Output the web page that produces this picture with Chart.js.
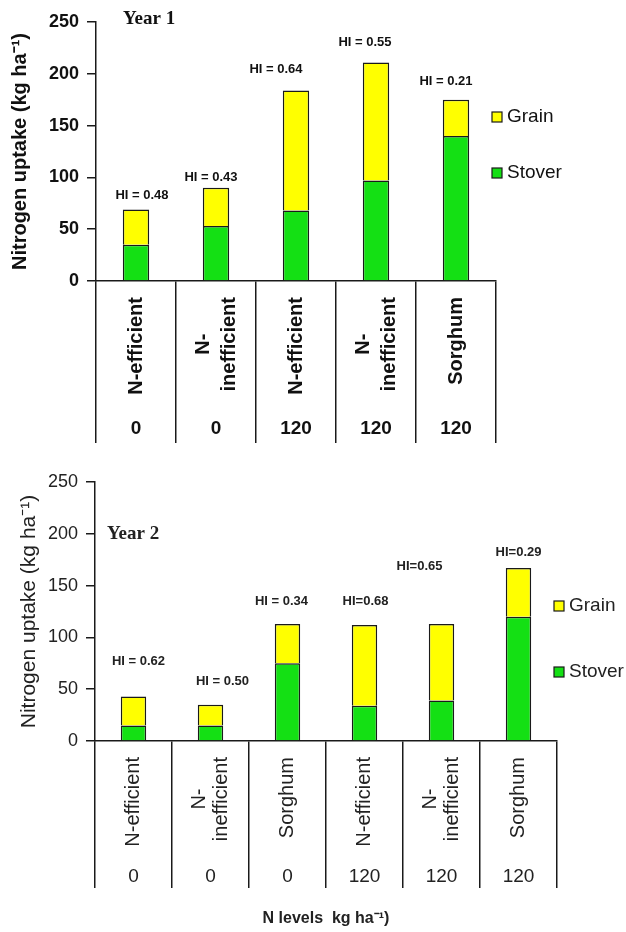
<!DOCTYPE html>
<html>
<head>
<meta charset="utf-8">
<script src="https://cdn.jsdelivr.net/npm/chart.js@4.4.1/dist/chart.umd.min.js"></script>
<style>
  html, body { margin: 0; padding: 0; background: #fff; }
  #w1 { position: absolute; left: 0; top: 0; width: 626px; height: 455px; }
  #w2 { position: absolute; left: 0; top: 460px; width: 626px; height: 472px; }
</style>
</head>
<body>
<div id="w1"><canvas id="c1" width="626" height="455" style="width:626px;height:455px"></canvas></div>
<div id="w2"><canvas id="c2" width="626" height="472" style="width:626px;height:472px"></canvas></div>
<script>
// ---------- DATA ----------
const categories1 = [['N-efficient'], ['N-', 'inefficient'], ['N-efficient'], ['N-', 'inefficient'], ['Sorghum']];
const nLevels1 = ['0', '0', '120', '120', '120'];
const stover1 = [35, 53, 68, 97, 140];
const grain1 = [34, 37, 116, 114, 35];
const hiLabels1 = ['HI = 0.48', 'HI = 0.43', 'HI = 0.64', 'HI = 0.55', 'HI = 0.21'];

const categories2 = [['N-efficient'], ['N-', 'inefficient'], ['Sorghum'], ['N-efficient'], ['N-', 'inefficient'], ['Sorghum']];
const nLevels2 = ['0', '0', '0', '120', '120', '120'];
const stover2 = [15, 15, 75, 34, 39, 120];
const grain2 = [28, 20, 38, 78, 74, 47];
const hiLabels2 = ['HI = 0.62', 'HI = 0.50', 'HI = 0.34', 'HI=0.68', 'HI=0.65', 'HI=0.29'];

const yTickValues = [0, 50, 100, 150, 200, 250];
const seriesNames = ['Stover', 'Grain'];

// ---------- LAYOUT / STYLE (not data) ----------
const hiOffsets1 = [[6, 14], [-5, 10], [-20, 21], [-11, 20], [-10, 18]];
const hiOffsets2 = [[5, 35], [12, 23], [-6, 23], [1, 24], [-22, 58], [0, 16]];

const SANS = "'Liberation Sans', Arial, sans-serif";
const SERIF = "'Liberation Serif', 'Times New Roman', serif";
const GREEN = '#14e014';
const YELLOW = '#ffff00';
const EDGE = '#1a1a1a';

const textPlugin = {
  id: 'customText',
  afterDraw(chart) {
    const cfg = chart.options.plugins.customText;
    const { ctx, chartArea } = chart;
    const x = chart.scales.x, y = chart.scales.y;
    ctx.save();
    ctx.fillStyle = cfg.color;
    ctx.textAlign = 'center';
    ctx.textBaseline = 'middle';

    // rotated category labels
    ctx.font = cfg.catFont;
    chart.data.labels.forEach((lines, i) => {
      const cx = x.getPixelForValue(i);
      const w = Math.max(...lines.map(l => ctx.measureText(l).width));
      const cy = chartArea.bottom + cfg.catTop + w / 2;
      lines.forEach((line, k) => {
        const off = (k - (lines.length - 1) / 2) * cfg.catLineHeight;
        ctx.save();
        ctx.translate(cx + off, cy);
        ctx.rotate(-Math.PI / 2);
        ctx.fillText(line, 0, 0);
        ctx.restore();
      });
    });

    // N level numbers
    ctx.font = cfg.numFont;
    cfg.levels.forEach((lv, i) => {
      ctx.fillText(lv, x.getPixelForValue(i), chartArea.bottom + cfg.numOffset);
    });

    // HI labels above stacks
    ctx.font = cfg.hiFont;
    cfg.hi.forEach((txt, i) => {
      const total = chart.data.datasets.reduce((s, d) => s + d.data[i], 0);
      const [dx, dy] = cfg.hiOffsets[i];
      ctx.fillText(txt, x.getPixelForValue(i) + dx, y.getPixelForValue(total) - dy);
    });

    // Year label
    ctx.textAlign = 'left';
    ctx.font = cfg.yearFont;
    ctx.fillText(cfg.year, chartArea.left + cfg.yearDx, chartArea.top + cfg.yearDy);

    // Legend (Grain on top, Stover below)
    const ds = chart.data.datasets.slice().reverse();
    ctx.font = cfg.legendFont;
    ds.forEach((d, k) => {
      const bx = chartArea.right + cfg.legendDx;
      const by = chartArea.top + cfg.legendTop + k * cfg.legendGap;
      ctx.fillStyle = d.backgroundColor;
      ctx.fillRect(bx, by - 5, 10, 10);
      ctx.strokeStyle = EDGE;
      ctx.lineWidth = 1.2;
      ctx.strokeRect(bx, by - 5, 10, 10);
      ctx.fillStyle = cfg.color;
      ctx.fillText(d.label, bx + 15, by);
    });
    ctx.restore();
  }
};

function makeChart(id, o) {
  const canvasH = o.canvasH;
  return new Chart(document.getElementById(id), {
    type: 'bar',
    data: {
      labels: o.categories,
      datasets: [
        { label: seriesNames[0], data: o.stover, backgroundColor: GREEN, borderColor: EDGE, borderWidth: 1.5, borderSkipped: 'start' },
        { label: seriesNames[1], data: o.grain, backgroundColor: YELLOW, borderColor: EDGE, borderWidth: 1.5, borderSkipped: 'start' }
      ]
    },
    options: {
      responsive: false,
      animation: false,
      layout: { padding: { top: 22, left: 0, right: o.padRight, bottom: 0 } },
      datasets: { bar: { categoryPercentage: 1.0, barPercentage: 0.33 } },
      plugins: {
        legend: { display: false },
        tooltip: { enabled: false },
        customText: {
          color: o.color,
          catFont: o.catFont,
          catTop: 16,
          catLineHeight: o.catLineHeight,
          numFont: o.numFont,
          numOffset: o.numOffset,
          levels: o.levels,
          hiFont: o.hiFont,
          hi: o.hi,
          hiOffsets: o.hiOffsets,
          year: o.year,
          yearFont: 'bold 19px ' + SERIF,
          yearDx: o.yearDx,
          yearDy: o.yearDy,
          legendFont: '19px ' + SANS,
          legendDx: o.legendDx,
          legendTop: o.legendTop,
          legendGap: o.legendGap
        }
      },
      scales: {
        x: {
          stacked: true,
          offset: true,
          border: { display: true, color: EDGE, width: 1.5 },
          grid: { offset: true, drawOnChartArea: false, drawTicks: true, tickLength: o.divLength, color: EDGE, lineWidth: 1.5 },
          ticks: { display: false },
          title: o.xTitle ? { display: true, text: o.xTitle, color: o.color, font: { family: SANS, size: 16, weight: 'bold' }, padding: { top: 0, bottom: 4 } } : { display: false },
          afterFit(scale) { scale.height = canvasH - 281; }
        },
        y: {
          stacked: true,
          min: 0,
          max: 250,
          afterBuildTicks(scale) { scale.ticks = yTickValues.map(v => ({ value: v })); },
          border: { display: true, color: EDGE, width: 1.5 },
          grid: { drawOnChartArea: false, drawTicks: true, tickLength: 9, color: EDGE, lineWidth: 1.5 },
          ticks: { color: o.color, padding: 8, font: { family: SANS, size: 18, weight: o.tickWeight } },
          title: { display: true, text: 'Nitrogen uptake (kg ha\u207B\u00B9)', color: o.color, font: { family: SANS, size: o.yTitleSize, weight: o.tickWeight }, padding: { top: o.yTitlePad, bottom: 0 } },
          afterFit(scale) { scale.width = o.left; }
        }
      }
    },
    plugins: [textPlugin]
  });
}

makeChart('c1', {
  canvasH: 455, categories: categories1, stover: stover1, grain: grain1, levels: nLevels1,
  hi: hiLabels1, hiOffsets: hiOffsets1, padRight: 130, left: 96,
  color: '#111', catFont: 'bold 20px ' + SANS, catLineHeight: 26, numFont: 'bold 19px ' + SANS, numOffset: 147.5,
  hiFont: 'bold 13px ' + SANS, year: 'Year 1', yearDx: 27, yearDy: -3,
  legendDx: -4, legendTop: 95, legendGap: 56, divLength: 162, xTitle: null,
  tickWeight: 'bold', yTitleSize: 20, yTitlePad: 8
});

makeChart('c2', {
  canvasH: 472, categories: categories2, stover: stover2, grain: grain2, levels: nLevels2,
  hi: hiLabels2, hiOffsets: hiOffsets2, padRight: 69, left: 95,
  color: '#222', catFont: '20px ' + SANS, catLineHeight: 22, numFont: '19px ' + SANS, numOffset: 135.5,
  hiFont: 'bold 13px ' + SANS, year: 'Year 2', yearDx: 12, yearDy: 52,
  legendDx: -3, legendTop: 124, legendGap: 66, divLength: 147, xTitle: 'N levels  kg ha\u207B\u00B9)',
  tickWeight: 'normal', yTitleSize: 21, yTitlePad: 17
});
</script>
</body>
</html>
